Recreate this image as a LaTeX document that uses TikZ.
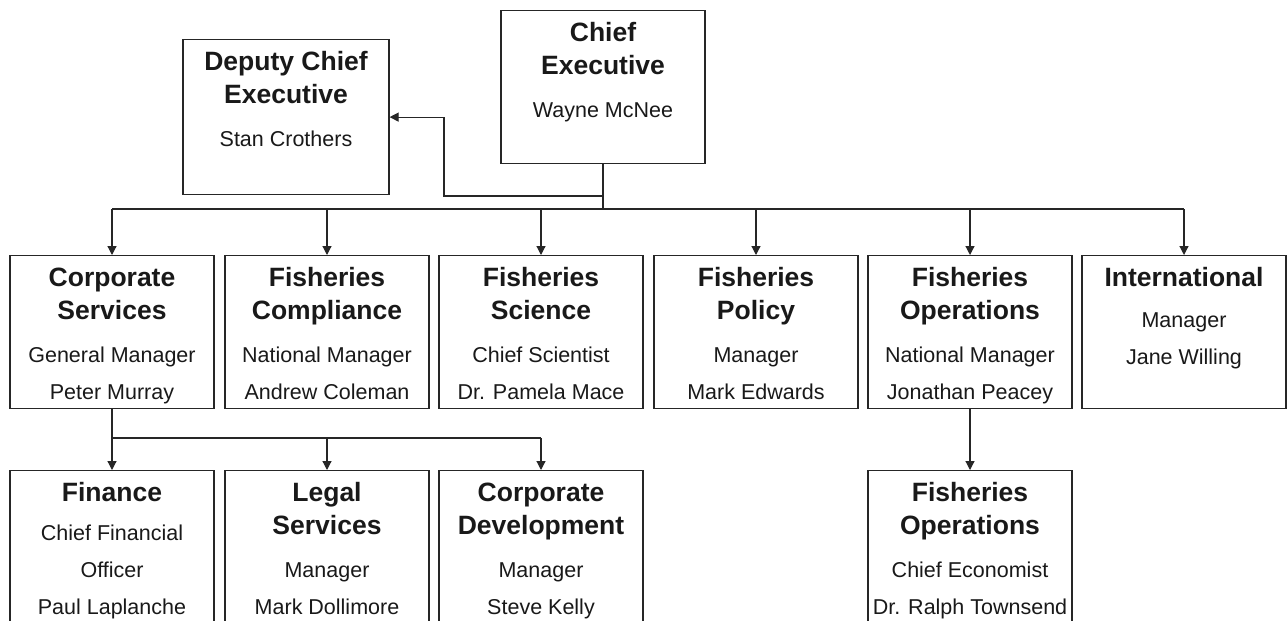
\documentclass[tikz,border=0pt]{standalone}
\usepackage{fontspec}
\setmainfont{Liberation Sans}
\usetikzlibrary{arrows.meta}
\newcommand{\hd}[1]{{\fontsize{26.5}{37}\selectfont\bfseries #1}}
\tikzset{
  box/.style={draw=black!85, line width=1.2pt, rectangle, minimum width=204pt, minimum height=153pt, inner sep=0pt, anchor=north},
  lowbox/.style={box, minimum height=200pt},
  txt/.style={anchor=north, inner sep=0pt, align=center, text=black!90, font=\fontsize{21.5}{37}\selectfont},
  conn/.style={draw=black!85, line width=1.2pt},
  arr/.style={conn, -{Triangle[length=9pt,width=9pt]}}
}
\begin{document}
\begin{tikzpicture}[x=1pt,y=-1pt]
\useasboundingbox (0,0) rectangle (1288,621);
\clip (0,0) rectangle (1288,621);
\fill[white] (0,0) rectangle (1288,621);
% top row
\node[box, minimum width=206pt, minimum height=155pt] (dce) at (286,39) {};
\node[box] (ce) at (603,10) {};
% middle row
\node[box] (cs) at (112,255) {};
\node[box] (fc) at (327,255) {};
\node[box] (fs) at (541,255) {};
\node[box] (fp) at (756,255) {};
\node[box] (fo) at (970,255) {};
\node[box] (intl) at (1184,255) {};
% bottom row
\node[lowbox] (fin) at (112,470) {};
\node[lowbox] (leg) at (327,470) {};
\node[lowbox] (cd) at (541,470) {};
\node[lowbox] (fo2) at (970,470) {};
% texts
\node[txt] (dce-t) at ([yshift=-12.5pt]dce.north) {\hd{Deputy Chief}\\[-4pt]\hd{Executive}\\[6pt]Stan Crothers};
\node[txt] (ce-t) at ([yshift=-12.5pt]ce.north) {\hd{Chief}\\[-4pt]\hd{Executive}\\[6pt]Wayne McNee};
\node[txt] (cs-t) at ([yshift=-12.5pt]cs.north) {\hd{Corporate}\\[-4pt]\hd{Services}\\[6pt]General Manager\\Peter Murray};
\node[txt] (fc-t) at ([yshift=-12.5pt]fc.north) {\hd{Fisheries}\\[-4pt]\hd{Compliance}\\[6pt]National Manager\\Andrew Coleman};
\node[txt] (fs-t) at ([yshift=-12.5pt]fs.north) {\hd{Fisheries}\\[-4pt]\hd{Science}\\[6pt]Chief Scientist\\Dr. Pamela Mace};
\node[txt] (fp-t) at ([yshift=-12.5pt]fp.north) {\hd{Fisheries}\\[-4pt]\hd{Policy}\\[6pt]Manager\\Mark Edwards};
\node[txt] (fo-t) at ([yshift=-12.5pt]fo.north) {\hd{Fisheries}\\[-4pt]\hd{Operations}\\[6pt]National Manager\\Jonathan Peacey};
\node[txt] (intl-t) at ([yshift=-12.5pt]intl.north) {\hd{International}\\[4pt]Manager\\Jane Willing};
\node[txt] (fin-t) at ([yshift=-12.5pt]fin.north) {\hd{Finance}\\[2pt]Chief Financial\\Officer\\Paul Laplanche};
\node[txt] (leg-t) at ([yshift=-12.5pt]leg.north) {\hd{Legal}\\[-4pt]\hd{Services}\\[6pt]Manager\\Mark Dollimore};
\node[txt] (cd-t) at ([yshift=-12.5pt]cd.north) {\hd{Corporate}\\[-4pt]\hd{Development}\\[6pt]Manager\\Steve Kelly};
\node[txt] (fo2-t) at ([yshift=-12.5pt]fo2.north) {\hd{Fisheries}\\[-4pt]\hd{Operations}\\[6pt]Chief Economist\\Dr. Ralph Townsend};
% connectors
\coordinate (j) at (603,209);
\coordinate (k1) at (603,196);
\coordinate (k2) at (444,196);
\draw[conn] (ce.south) -- (j);
\draw[conn] (cs.north |- j) -- (intl.north |- j);
\draw[arr] (k1) -- (k2) |- (dce.east);
\foreach \n in {cs,fc,fs,fp,fo,intl}{
  \draw[arr] (\n.north |- j) -- (\n.north);
}
\coordinate (j2) at (112,438);
\draw[conn] (cs.south) -- (j2) -- (cd.north |- j2);
\foreach \n in {fin,leg,cd}{
  \draw[arr] (\n.north |- j2) -- (\n.north);
}
\draw[arr] (fo.south) -- (fo2.north);
\end{tikzpicture}
\end{document}
